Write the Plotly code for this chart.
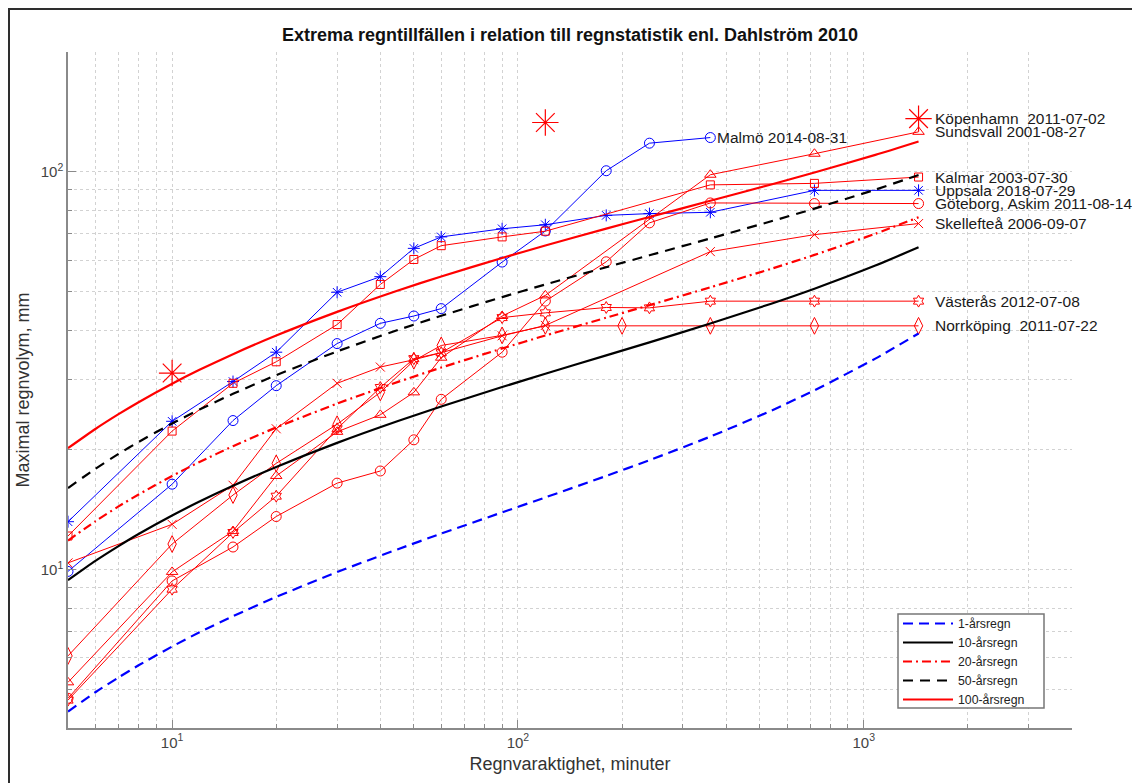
import math
import plotly.graph_objects as go

# ---------------- data ----------------
# return-period curves (Dahlström 2010)
curve_dur = [5, 6, 7, 8, 10, 12, 15, 20, 30, 45, 60, 90, 120, 180, 240, 360, 540, 720, 1080, 1440]
y1 = [4.40, 4.92, 5.36, 5.75, 6.41, 6.96, 7.64, 8.54, 9.86, 11.26, 12.32, 13.93, 15.19, 17.20, 18.84, 21.60, 25.10, 28.23, 33.92, 39.23]
y10 = [9.41, 10.52, 11.46, 12.29, 13.68, 14.83, 16.25, 18.12, 20.83, 23.64, 25.71, 28.77, 31.07, 34.56, 37.27, 41.56, 46.61, 50.84, 58.12, 64.58]
y20 = [11.84, 13.23, 14.42, 15.45, 17.20, 18.65, 20.43, 22.77, 26.15, 29.64, 32.21, 35.96, 38.77, 42.98, 46.21, 51.24, 57.04, 61.81, 69.86, 76.87]
y50 = [16.04, 17.93, 19.54, 20.94, 23.30, 25.25, 27.67, 30.82, 35.36, 40.04, 43.45, 48.42, 52.10, 57.56, 61.68, 68.00, 75.09, 80.81, 90.19, 98.15]
y100 = [20.20, 22.57, 24.59, 26.36, 29.33, 31.78, 34.81, 38.77, 44.46, 50.31, 54.56, 60.73, 65.27, 71.96, 76.97, 84.54, 92.93, 99.58, 110.26, 119.17]
curve_names = ["1-årsregn", "10-årsregn", "20-årsregn", "50-årsregn", "100-årsregn"]

# observed events
malmo_x = [5, 10, 15, 20, 30, 40, 50, 60, 90, 120, 180, 240, 360]
malmo_y = [9.9, 16.4, 23.7, 29.0, 37.0, 41.6, 43.4, 45.3, 59.3, 71.0, 100.6, 118.0, 121.9]

uppsala_x = [5, 10, 15, 20, 30, 40, 50, 60, 90, 120, 180, 240, 360, 720, 1440]
uppsala_y = [13.2, 23.6, 29.7, 35.2, 49.8, 54.5, 64.2, 68.6, 71.9, 73.6, 77.7, 78.5, 79.1, 89.8, 89.8]

kalmar_x = [5, 10, 15, 20, 30, 40, 50, 60, 90, 120, 360, 720, 1440]
kalmar_y = [12.15, 22.3, 29.4, 33.3, 41.3, 52.1, 60.2, 65.2, 68.6, 70.9, 92.7, 93.5, 97.0]

sundsvall_x = [5, 10, 15, 20, 30, 40, 50, 60, 90, 120, 360, 720, 1440]
sundsvall_y = [5.21, 9.87, 12.5, 17.2, 22.2, 24.5, 27.9, 34.1, 43.4, 48.9, 98.3, 111.0, 126.0]

goteborg_x = [5, 10, 15, 20, 30, 40, 50, 60, 90, 120, 180, 240, 360, 720, 1440]
goteborg_y = [4.75, 9.37, 11.4, 13.6, 16.5, 17.7, 21.2, 26.8, 35.2, 47.3, 59.4, 74.4, 83.5, 83.2, 83.2]

skelleftea_x = [5, 10, 15, 20, 30, 40, 50, 60, 90, 120, 360, 720, 1440]
skelleftea_y = [10.4, 13.0, 16.3, 22.6, 29.4, 32.3, 33.7, 35.1, 38.7, 41.1, 63.0, 69.5, 74.1]

norrkoping_x = [5, 10, 15, 20, 30, 40, 50, 60, 90, 120, 200, 360, 720, 1440]
norrkoping_y = [6.07, 11.6, 15.4, 18.5, 23.2, 27.9, 33.5, 36.6, 38.8, 41.0, 41.0, 41.0, 41.0, 41.0]

vasteras_x = [5, 10, 15, 20, 30, 40, 50, 60, 90, 120, 180, 240, 360, 720, 1440]
vasteras_y = [4.70, 8.93, 12.4, 15.3, 22.6, 28.7, 33.9, 35.1, 43.0, 44.2, 45.6, 45.5, 47.3, 47.3, 47.3]

kopenhamn_x = [10, 120, 1440]
kopenhamn_y = [31.2, 133.0, 136.0]

labels = {
    "malmo": "Malmö 2014-08-31",
    "kopenhamn": "Köpenhamn  2011-07-02",
    "sundsvall": "Sundsvall 2001-08-27",
    "kalmar": "Kalmar 2003-07-30",
    "uppsala": "Uppsala 2018-07-29",
    "goteborg": "Göteborg, Askim 2011-08-14",
    "skelleftea": "Skellefteå 2006-09-07",
    "vasteras": "Västerås 2012-07-08",
    "norrkoping": "Norrköping  2011-07-22",
}

x_major = [10, 100, 1000]
x_major_text = ["10<sup>1</sup>", "10<sup>2</sup>", "10<sup>3</sup>"]
x_minor = [6, 7, 8, 9, 20, 30, 40, 50, 60, 70, 80, 90, 200, 300, 400, 500, 600, 700, 800, 900, 2000, 3000, 4000]
y_major = [10, 100]
y_major_text = ["10<sup>1</sup>", "10<sup>2</sup>"]
y_minor = [5, 6, 7, 8, 9, 20, 30, 40, 50, 60, 70, 80, 90, 200]

# ---------------- figure ----------------
FONT = "Liberation Sans, Arial, Helvetica, sans-serif"
RED = "#ff0000"
BLUE = "#0000ff"

W, H = 1132, 775          # page body has an 8 px margin
ML, MR, MT, MB = 60, 68, 44, 55
PW, PH = W - ML - MR, H - MT - MB

fig = go.Figure()

events = [
    ("malmo", malmo_x, malmo_y, BLUE, "circle-open", 10),
    ("uppsala", uppsala_x, uppsala_y, BLUE, "asterisk-open", 10),
    ("kalmar", kalmar_x, kalmar_y, RED, "square-open", 8),
    ("sundsvall", sundsvall_x, sundsvall_y, RED, "triangle-up-open", 10),
    ("goteborg", goteborg_x, goteborg_y, RED, "circle-open", 10),
    ("skelleftea", skelleftea_x, skelleftea_y, RED, "x-thin-open", 9),
    ("norrkoping", norrkoping_x, norrkoping_y, RED, "diamond-tall-open", 12),
    ("vasteras", vasteras_x, vasteras_y, RED, "hexagram-open", 9),
]
for key, xs, ys, col, sym, sz in events:
    fig.add_trace(go.Scatter(
        x=xs, y=ys, mode="lines+markers", name=labels[key], showlegend=False,
        line=dict(color=col, width=1),
        marker=dict(symbol=sym, size=sz, color=col, line=dict(color=col, width=1)),
    ))

fig.add_trace(go.Scatter(
    x=kopenhamn_x, y=kopenhamn_y, mode="markers", name=labels["kopenhamn"], showlegend=False,
    marker=dict(symbol="asterisk-open", size=22, color=RED, line=dict(color=RED, width=1.2)),
))

curves = [
    (y1, BLUE, "10px,6px"),
    (y10, "#000000", "solid"),
    (y20, RED, "9px,4px,2px,4px"),
    (y50, "#000000", "10px,7px"),
    (y100, RED, "solid"),
]
for name, (ys, col, dash) in zip(curve_names, curves):
    fig.add_trace(go.Scatter(
        x=curve_dur, y=ys, mode="lines", name=name,
        line=dict(color=col, width=2.2, dash=dash, shape="spline", smoothing=0.6),
    ))

def last_label(key, xs, ys, shift):
    fig.add_annotation(
        x=math.log10(xs[-1]), y=math.log10(ys[-1]), xref="x", yref="y",
        text=labels[key], showarrow=False, xanchor="left", yanchor="middle",
        xshift=shift, font=dict(family=FONT, size=15.5, color="#1a1a1a"),
    )

last_label("malmo", malmo_x, malmo_y, 5)
last_label("kopenhamn", kopenhamn_x, kopenhamn_y, 14)
last_label("sundsvall", sundsvall_x, sundsvall_y, 14)
last_label("kalmar", kalmar_x, kalmar_y, 14)
last_label("uppsala", uppsala_x, uppsala_y, 14)
last_label("goteborg", goteborg_x, goteborg_y, 14)
last_label("skelleftea", skelleftea_x, skelleftea_y, 14)
last_label("vasteras", vasteras_x, vasteras_y, 14)
last_label("norrkoping", norrkoping_x, norrkoping_y, 14)

axis_common = dict(
    type="log", automargin=False,
    showline=True, linecolor="#8a8a8a", linewidth=1.5, mirror=False,
    ticks="inside", ticklen=8, tickcolor="#8a8a8a", tickwidth=1,
    showgrid=True, gridcolor="#d2d2d2", griddash="dot", gridwidth=1,
    zeroline=False,
    tickfont=dict(family=FONT, size=15, color="#444444"),
    tickmode="array",
)

fig.update_xaxes(
    **axis_common,
    range=[math.log10(5), math.log10(4000)],
    tickvals=x_major, ticktext=x_major_text,
    minor=dict(tickmode="array", tickvals=x_minor, ticks="inside", ticklen=4,
               tickcolor="#8a8a8a", showgrid=True, gridcolor="#d2d2d2", griddash="dot"),
    title=dict(text="Regnvaraktighet, minuter", font=dict(family=FONT, size=18, color="#333333"), standoff=8),
)
fig.update_yaxes(
    **axis_common,
    range=[math.log10(4), math.log10(200)],
    tickvals=y_major, ticktext=y_major_text,
    minor=dict(tickmode="array", tickvals=y_minor, ticks="inside", ticklen=4,
               tickcolor="#8a8a8a", showgrid=True, gridcolor="#d2d2d2", griddash="dot"),
    title=dict(text="Maximal regnvolym, mm", font=dict(family=FONT, size=18, color="#333333"), standoff=6),
)

# legend box (page px 898-1044 x 614-708 -> figure px minus 8)
box_x0, box_x1, box_y0, box_y1 = 890, 1036, 606, 700

fig.update_layout(
    width=W, height=H,
    margin=dict(l=ML, r=MR, t=MT, b=MB, autoexpand=False),
    paper_bgcolor="white", plot_bgcolor="white",
    title=dict(text="<b>Extrema regntillfällen i relation till regnstatistik enl. Dahlström 2010</b>",
               x=(ML + PW / 2) / W, xanchor="center", y=1 - 27 / H, yanchor="middle",
               font=dict(family=FONT, size=18, color="#111111")),
    legend=dict(x=(box_x0 - ML) / PW, y=(PH + MT - 601) / PH, xanchor="left", yanchor="top",
                bgcolor="rgba(0,0,0,0)", borderwidth=0,
                font=dict(family=FONT, size=12.3, color="#222222"),
                itemwidth=50, tracegroupgap=0),
    showlegend=True,
    shapes=[
        dict(type="rect", xref="paper", yref="paper",
             x0=(1 - ML) / PW, x1=(W + 20 - ML) / PW,
             y0=(PH + MT - H - 20) / PH, y1=(PH + MT - 1) / PH,
             line=dict(color="#2e2e2e", width=2), fillcolor="rgba(0,0,0,0)", layer="below"),
        dict(type="rect", xref="paper", yref="paper",
             x0=(box_x0 - ML) / PW, x1=(box_x1 - ML) / PW,
             y0=(PH + MT - box_y1) / PH, y1=(PH + MT - box_y0) / PH,
             line=dict(color="#777777", width=1.5), fillcolor="white", layer="above"),
    ],
)

fig.write_html("out.html")
